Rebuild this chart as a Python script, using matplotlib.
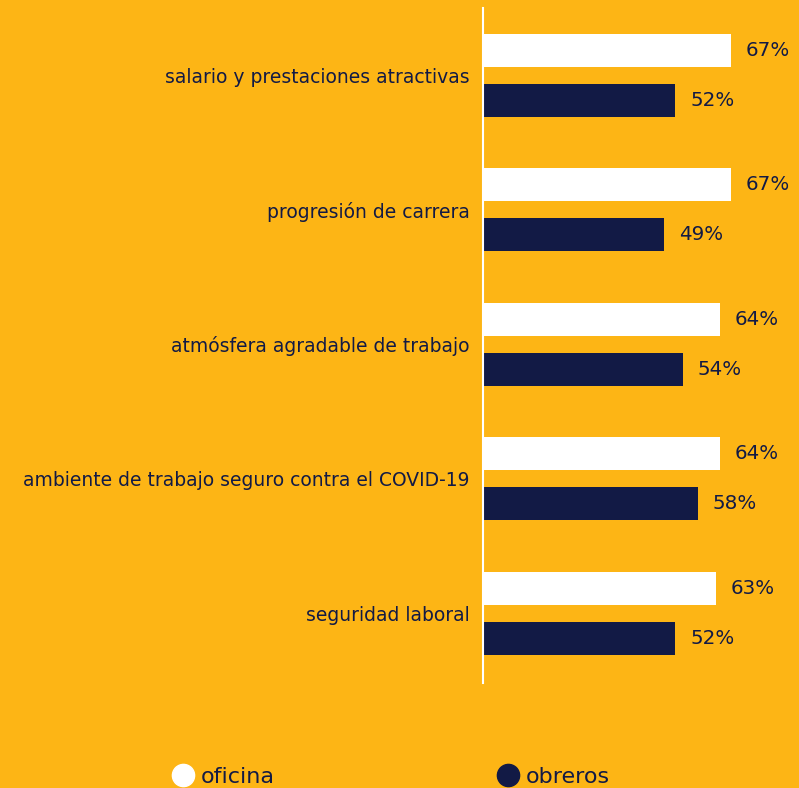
import numpy as np
import matplotlib.pyplot as plt
from matplotlib.lines import Line2D

# factores valorados por empleados de oficina y obreros (%)
factores = ['salario y prestaciones atractivas',
            'progresión de carrera',
            'atmósfera agradable de trabajo',
            'ambiente de trabajo seguro contra el COVID-19',
            'seguridad laboral']
oficina = [67, 67, 64, 64, 63]
obreros = [52, 49, 54, 58, 52]

fondo = '#FDB515'
azul = '#121A45'
blanco = '#FFFFFF'

plt.rcParams['font.family'] = ['DejaVu Sans']

fig = plt.figure(figsize=(7.99, 7.88), dpi=100, facecolor=fondo)
ax = fig.add_axes([483/799, 105/788, 316/799, 675/788])
ax.set_facecolor(fondo)

y = np.arange(len(factores))
off = 0.186
h = 0.245
ax.barh(y - off, oficina, height=h, color=blanco)
ax.barh(y + off, obreros, height=h, color=azul)

for yi, v in zip(y - off, oficina):
    ax.text(v + 4.0, yi, f'{v}%', va='center', ha='left', fontsize=14.3, color=azul)
for yi, v in zip(y + off, obreros):
    ax.text(v + 4.0, yi, f'{v}%', va='center', ha='left', fontsize=14.3, color=azul)

ax.set_xlim(0, 85.4)
ax.set_ylim(4.52, -0.502)
ax.set_yticks(y)
ax.set_yticklabels(factores, fontsize=13.5, color=azul)
ax.tick_params(axis='y', length=0, pad=9.5)
ax.set_xticks([])
for s in ['top', 'right', 'bottom']:
    ax.spines[s].set_visible(False)
ax.spines['left'].set_color(blanco)
ax.spines['left'].set_linewidth(1.5)

handles = [Line2D([], [], marker='o', linestyle='none', markersize=16,
                  markerfacecolor=blanco, markeredgecolor=blanco),
           Line2D([], [], marker='o', linestyle='none', markersize=16,
                  markerfacecolor=azul, markeredgecolor=azul)]
fig.legend(handles, ['oficina', 'obreros'], ncol=2, frameon=False,
           loc='lower left', bbox_to_anchor=(150/799, -19/788),
           fontsize=16, labelcolor=azul, handletextpad=0.2,
           columnspacing=9.9, handlelength=1.2)

fig.savefig('out.png', dpi=100, facecolor=fondo)
